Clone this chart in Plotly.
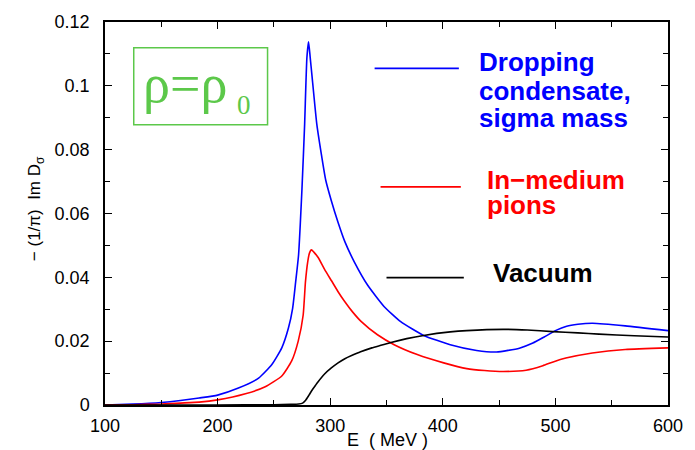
import plotly.graph_objects as go

# ---- data ----
E_drop = [100, 125, 150, 167, 183.6, 200, 218.5, 236.4, 248.2, 257, 262.9, 266.6, 269.3, 271.9,
          274.9, 277.3, 279.3, 280.8, 282.2, 283.7, 288.1, 292.5, 296, 301, 307, 313, 321.6, 333.3,
          348, 362.6, 383, 406.6, 430, 447.7, 468, 480, 490, 500, 510, 520, 533, 562, 600]
V_drop = [0.0, 0.0003, 0.0008, 0.0014, 0.0022, 0.0031, 0.0053, 0.0084, 0.0127, 0.0179, 0.0241,
          0.0302, 0.0385, 0.047, 0.0675, 0.088, 0.1088, 0.1138, 0.109, 0.1036, 0.088, 0.0778, 0.0705,
          0.0640, 0.0572, 0.0512, 0.0447, 0.0375, 0.0308, 0.0261, 0.0218, 0.0189, 0.0171, 0.0166,
          0.0178, 0.0194, 0.0213, 0.0233, 0.0247, 0.0253, 0.0256, 0.0248, 0.0233]

E_pion = [100, 125, 150, 167, 183.6, 200, 224.7, 242.3, 257, 265.8, 271.6, 276, 278, 280, 281.5,
          283.3, 285.5, 289.3, 295, 301, 307, 312.7, 320, 327.4, 342, 356.8, 377.3, 400.8, 421.3,
          437, 453.6, 474, 488.8, 498, 509.3, 532.8, 562, 600]
V_pion = [0.0, 0.0001, 0.0003, 0.0006, 0.0009, 0.0016, 0.0035, 0.0057, 0.0091, 0.0138, 0.020,
          0.0282, 0.0385, 0.0448, 0.0475, 0.0486, 0.0479, 0.0462, 0.0425, 0.0390, 0.0355, 0.0325,
          0.0291, 0.0262, 0.022, 0.0189, 0.0158, 0.0132, 0.0114, 0.0108, 0.0105, 0.0109, 0.0123,
          0.0135, 0.0147, 0.0163, 0.0174, 0.0179]

E_vac = [100, 200, 250, 265, 272, 275.5, 278, 281, 284, 287, 289.3, 295, 301, 307, 313, 319,
         327, 337, 345, 354, 368, 383, 406.6, 421.3, 453.6, 475, 497.6, 520, 538.7, 570, 600]
V_vac = [0.0, 0.0, 0.0001, 0.0002, 0.0003, 0.0006, 0.0014, 0.003, 0.0047, 0.0062, 0.0073, 0.0097,
         0.0116, 0.0132, 0.0145, 0.0155, 0.0167, 0.0179, 0.0187, 0.0196, 0.0208, 0.0218, 0.0229,
         0.0233, 0.0237, 0.0235, 0.0230, 0.0226, 0.0222, 0.0217, 0.0213]

x_ticks = [100, 200, 300, 400, 500, 600]
x_ticklabels = ["100", "200", "300", "400", "500", "600"]
y_ticks = [0, 0.02, 0.04, 0.06, 0.08, 0.1, 0.12]
y_ticklabels = ["0", "0.02", "0.04", "0.06", "0.08", "0.1", "0.12"]

legend_labels = {
    "drop": ["Dropping", "condensate,", "sigma mass"],
    "pion": ["In\u2212medium", "pions"],
    "vac": ["Vacuum"],
}

# ---- layout helpers (pixel -> paper) ----
W, H = 695, 450
L, R, T, B = 105, 673, 17, 405


def px(x):
    return (x - L) / (R - L)


def py(y):
    return (B - y) / (B - T)


fig = go.Figure()
line_kw = dict(width=1.6, shape="spline", smoothing=0.5)
fig.add_trace(go.Scatter(x=E_drop, y=V_drop, mode="lines", line=dict(color="#0000ff", **line_kw), showlegend=False))
fig.add_trace(go.Scatter(x=E_pion, y=V_pion, mode="lines", line=dict(color="#ff0000", **line_kw), showlegend=False))
fig.add_trace(go.Scatter(x=E_vac, y=V_vac, mode="lines", line=dict(color="#000000", **line_kw), showlegend=False))

font_main = "Liberation Sans, Arial, sans-serif"

axis_common = dict(
    showline=True, linecolor="black", linewidth=1.5, mirror="ticks",
    ticks="inside", ticklen=7, tickwidth=1, tickcolor="black",
    showgrid=False, zeroline=False,
    tickfont=dict(family=font_main, size=18, color="black"),
)

fig.update_layout(
    width=W, height=H,
    margin=dict(l=L, r=W - R, t=T, b=H - B),
    paper_bgcolor="white", plot_bgcolor="white",
    xaxis=dict(range=[100, 600], tickvals=x_ticks, ticktext=x_ticklabels,
               minor=dict(dtick=50, tick0=100, ticks="inside", ticklen=5, tickcolor="black"),
               ticklabelstandoff=4, **axis_common),
    yaxis=dict(range=[0, 0.12], tickvals=y_ticks, ticktext=y_ticklabels,
               minor=dict(dtick=0.01, tick0=0, ticks="inside", ticklen=5, tickcolor="black"),
               ticklabelstandoff=10, **axis_common),
)

shapes = []
annotations = []

green = "#5cc84a"
serif = "Liberation Serif, Times New Roman, serif"
# green rho box
shapes.append(dict(type="rect", xref="paper", yref="paper",
                   x0=px(134), x1=px(269), y0=py(121), y1=py(43),
                   line=dict(color=green, width=1.5), fillcolor="rgba(0,0,0,0)"))
annotations.append(dict(xref="paper", yref="paper", x=px(141), y=py(80), xanchor="left", yanchor="middle",
                        text="\u03c1=\u03c1", showarrow=False,
                        font=dict(family=serif, size=54, color=green)))
annotations.append(dict(xref="paper", yref="paper", x=px(245), y=py(101), xanchor="center", yanchor="middle",
                        text="0", showarrow=False,
                        font=dict(family=serif, size=27, color=green)))

# legend lines
legend_lines = [("#0000ff", 377, 462, 64), ("#ff0000", 383, 464, 184), ("#000000", 389, 467, 276)]
for c, xa, xb, yy in legend_lines:
    shapes.append(dict(type="line", xref="paper", yref="paper", x0=px(xa), x1=px(xb), y0=py(yy), y1=py(yy),
                       line=dict(color=c, width=1.6)))

leg_font = "Liberation Sans, Arial, sans-serif"
text_pos = [
    ("drop", "#0000ff", 480, [58, 87, 114]),
    ("pion", "#ff0000", 488, [177, 202]),
    ("vac", "#000000", 494, [271]),
]
for key, c, xl, ys in text_pos:
    for line, yy in zip(legend_labels[key], ys):
        annotations.append(dict(xref="paper", yref="paper", x=px(xl), y=py(yy), xanchor="left", yanchor="middle",
                                text="<b>" + line + "</b>", showarrow=False,
                                font=dict(family=leg_font, size=26, color=c)))

# axis titles
annotations.append(dict(xref="paper", yref="paper", x=px(35), y=py(206), xanchor="center", yanchor="middle",
                        textangle=-90, text="\u2212 (1/\u03c0)\u00a0\u00a0Im D<sub>\u03c3</sub>", showarrow=False,
                        font=dict(family=font_main, size=17, color="black")))
annotations.append(dict(xref="paper", yref="paper", x=px(390), y=py(440), xanchor="center", yanchor="middle",
                        text="E\u00a0\u00a0( MeV )", showarrow=False,
                        font=dict(family=font_main, size=18, color="black")))

fig.update_layout(shapes=shapes, annotations=annotations)

fig.write_html("out.html")
